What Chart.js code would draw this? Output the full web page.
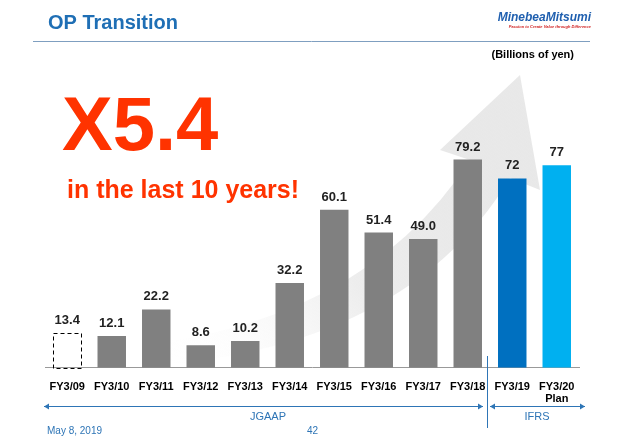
<!DOCTYPE html>
<html><head><meta charset="utf-8">
<script src="https://cdn.jsdelivr.net/npm/chart.js@4"></script>
<style>body{margin:0;background:#fff}canvas{display:block}</style>
</head><body>
<canvas id="c" width="621" height="438"></canvas>
<script>
const years = ['FY3/09','FY3/10','FY3/11','FY3/12','FY3/13','FY3/14','FY3/15','FY3/16','FY3/17','FY3/18','FY3/19',['FY3/20','Plan']];
const opValues = [13.4, 12.1, 22.2, 8.6, 10.2, 32.2, 60.1, 51.4, 49.0, 79.2, 72, 77];
const valueLabels = ['13.4','12.1','22.2','8.6','10.2','32.2','60.1','51.4','49.0','79.2','72','77'];
const barColors = ['rgba(0,0,0,0)','#808080','#808080','#808080','#808080','#808080','#808080','#808080','#808080','#808080','#0070C0','#00B0F0'];

const deco = {
  id: 'deco',
  beforeDatasetsDraw(chart) {
    const ctx = chart.ctx;
    // big curved arrow in the background
    ctx.save();
    const g = ctx.createLinearGradient(150, 350, 520, 80);
    g.addColorStop(0, 'rgba(255,255,255,0)');
    g.addColorStop(0.45, 'rgba(215,215,215,0.45)');
    g.addColorStop(1, 'rgba(230,230,230,0.9)');
    ctx.fillStyle = g;
    ctx.beginPath();
    ctx.moveTo(110, 348);
    ctx.quadraticCurveTo(360, 330, 470, 160);
    ctx.lineTo(440, 150);
    ctx.lineTo(520, 75);
    ctx.lineTo(540, 190);
    ctx.lineTo(510, 178);
    ctx.quadraticCurveTo(400, 360, 110, 368);
    ctx.closePath();
    ctx.fill();
    ctx.restore();
  },
  afterDraw(chart) {
    const ctx = chart.ctx;
    const x = chart.scales.x, y = chart.scales.y;
    ctx.save();
    // dashed first bar
    const b0 = chart.getDatasetMeta(0).data[0];
    ctx.strokeStyle = '#000';
    ctx.lineWidth = 1;
    ctx.setLineDash([4, 3]);
    ctx.strokeRect(Math.round(b0.x - b0.width / 2) + 0.5, Math.round(b0.y) + 0.5, Math.round(b0.width), Math.round(b0.base - b0.y));
    ctx.setLineDash([]);
    // value labels
    ctx.fillStyle = '#222';
    ctx.font = 'bold 13px Arial, "Liberation Sans"';
    ctx.textAlign = 'center';
    ctx.textBaseline = 'bottom';
    opValues.forEach((v, i) => ctx.fillText(valueLabels[i], x.getPixelForValue(i), y.getPixelForValue(v) - 6));
    // header
    ctx.textAlign = 'left';
    ctx.textBaseline = 'alphabetic';
    ctx.fillStyle = '#1F6FB5';
    ctx.font = 'bold 20px Arial, "Liberation Sans"';
    ctx.fillText('OP Transition', 48, 29);
    ctx.strokeStyle = '#7F9FC0';
    ctx.beginPath(); ctx.moveTo(33, 41.5); ctx.lineTo(590, 41.5); ctx.stroke();
    ctx.textAlign = 'right';
    ctx.fillStyle = '#1F5FAF';
    ctx.font = 'italic bold 12px Arial, "Liberation Sans"';
    ctx.fillText('MinebeaMitsumi', 591, 21);
    ctx.fillStyle = '#D02020';
    ctx.font = 'italic bold 4px Arial, "Liberation Sans"';
    ctx.fillText('Passion to Create Value through Difference', 591, 28);
    ctx.fillStyle = '#000';
    ctx.font = 'bold 11px Arial, "Liberation Sans"';
    ctx.fillText('(Billions of yen)', 574, 58);
    // big red text
    ctx.textAlign = 'left';
    ctx.fillStyle = '#FF3300';
    ctx.font = 'bold 76px Arial, "Liberation Sans"';
    ctx.fillText('X5.4', 62, 150);
    ctx.font = 'bold 25px Arial, "Liberation Sans"';
    ctx.fillText('in the last 10 years!', 67, 198);
    // accounting standard arrows
    const blue = '#2E75B6';
    ctx.strokeStyle = blue; ctx.fillStyle = blue;
    ctx.beginPath(); ctx.moveTo(487.5, 356); ctx.lineTo(487.5, 428); ctx.stroke();
    const arrow = (x1, x2, yy) => {
      ctx.beginPath(); ctx.moveTo(x1, yy); ctx.lineTo(x2, yy); ctx.stroke();
      [[x1, 1], [x2, -1]].forEach(([px, d]) => {
        ctx.beginPath(); ctx.moveTo(px, yy); ctx.lineTo(px + 5 * d, yy - 3); ctx.lineTo(px + 5 * d, yy + 3); ctx.closePath(); ctx.fill();
      });
    };
    arrow(44, 483, 406.5);
    arrow(490, 585, 406.5);
    ctx.font = '11px Arial, "Liberation Sans"';
    ctx.textAlign = 'center';
    ctx.fillText('JGAAP', 268, 420);
    ctx.fillText('IFRS', 537, 420);
    ctx.font = '10px Arial, "Liberation Sans"';
    ctx.textAlign = 'left';
    ctx.fillText('May 8, 2019', 47, 434);
    ctx.fillText('42', 307, 434);
    ctx.restore();
  }
};

new Chart(document.getElementById('c'), {
  type: 'bar',
  data: {
    labels: years,
    datasets: [{
      data: opValues,
      backgroundColor: barColors,
      borderWidth: 0,
      barPercentage: 0.64,
      categoryPercentage: 1
    }]
  },
  options: {
    responsive: false,
    animation: false,
    layout: { padding: { left: 45, right: 42, top: 60, bottom: 28 } },
    plugins: { legend: { display: false }, tooltip: { enabled: false } },
    scales: {
      x: {
        grid: { display: false },
        border: { color: '#999' },
        ticks: { color: '#000', font: { family: 'Arial, "Liberation Sans"', size: 11, weight: 'bold', lineHeight: 1.1 }, padding: 5, maxRotation: 0, autoSkip: false }
      },
      y: { display: false, min: 0, max: 117 }
    }
  },
  plugins: [deco]
});
</script>
</body></html>
